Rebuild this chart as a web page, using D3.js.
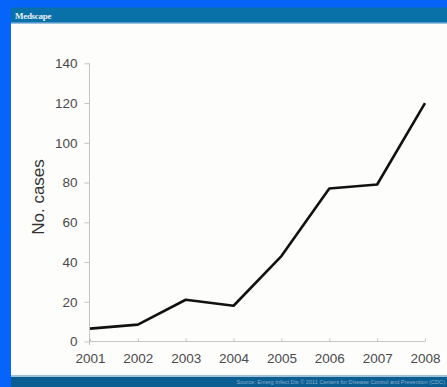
<!DOCTYPE html>
<html><head><meta charset="utf-8">
<script src="https://cdn.jsdelivr.net/npm/d3@7"></script>
<style>html,body{margin:0;padding:0;background:#0565fb;overflow:hidden}</style>
</head><body>
<svg id="c" width="447" height="387"></svg>
<script>
const years = ["2001","2002","2003","2004","2005","2006","2007","2008"];
const cases = [6.5, 8.5, 21, 18, 43, 77, 79, 120];
const yTicks = [0, 20, 40, 60, 80, 100, 120, 140];
const yLabel = "No. cases";
const headerText = "Medscape";
const sourceText = "Source: Emerg Infect Dis \u00a9 2011 Centers for Disease Control and Prevention (CDC)";

const svg = d3.select("#c");
svg.append("rect").attr("width",447).attr("height",387).attr("fill","#0565fb");
// header
svg.append("rect").attr("x",11).attr("y",7.5).attr("width",436).attr("height",15).attr("fill","#0a70a8");
svg.append("rect").attr("x",11).attr("y",22.5).attr("width",436).attr("height",1.5).attr("fill","#9cc3d8");
svg.append("text").attr("x",15).attr("y",18.5).text(headerText)
  .attr("font-family","Liberation Serif, serif").attr("font-size",9).attr("font-weight","bold")
  .attr("fill","#e6f0f6").attr("letter-spacing",-0.3);
// white panel
svg.append("rect").attr("x",11).attr("y",24).attr("width",436).attr("height",351).attr("fill","#fdfdfc");
// footer
svg.append("rect").attr("x",11).attr("y",375).attr("width",436).attr("height",2).attr("fill","#9cc3d8");
svg.append("rect").attr("x",11).attr("y",377).attr("width",436).attr("height",10).attr("fill","#0b5e92");
svg.append("text").attr("x",445).attr("y",384).attr("text-anchor","end").text(sourceText)
  .attr("font-family","Liberation Sans, Arial, sans-serif").attr("font-size",5.6)
  .attr("fill","#86aece");

const x = d3.scalePoint().domain(years).range([90, 425]);
const y = d3.scaleLinear().domain([0, 140]).range([341.5, 63.3]);

const font = "Liberation Sans, Arial, sans-serif";
// y axis
const ya = svg.append("g").attr("transform","translate(89.5,0)")
  .call(d3.axisLeft(y).tickValues(yTicks).tickSize(5).tickPadding(7).tickFormat(d3.format("d")));
ya.select(".domain").attr("stroke","#c4c4c4").attr("d","M0,63.3V345");
ya.selectAll(".tick line").attr("stroke","#c4c4c4");
ya.selectAll("text").attr("font-family",font).attr("font-size",13.5).attr("fill","#4a4a4a");

// x axis
const xa = svg.append("g").attr("transform","translate(0,341.5)")
  .call(d3.axisBottom(x).tickSize(-3).tickPadding(12));
xa.select(".domain").attr("stroke","#c4c4c4").attr("d","M90,0H425");
xa.selectAll(".tick line").attr("stroke","#c4c4c4");
xa.selectAll("text").attr("font-family",font).attr("font-size",13.5).attr("fill","#4a4a4a");

// y label
svg.append("text").attr("transform","translate(44,197) rotate(-90)")
  .attr("text-anchor","middle").attr("font-family",font).attr("font-size",17)
  .attr("fill","#333").text(yLabel);

// line
svg.append("path").datum(cases)
  .attr("fill","none").attr("stroke","#111").attr("stroke-width",2.6).attr("stroke-linejoin","round")
  .attr("d", d3.line().x((d,i)=>x(years[i])).y(d=>y(d)));
</script>
</body></html>
